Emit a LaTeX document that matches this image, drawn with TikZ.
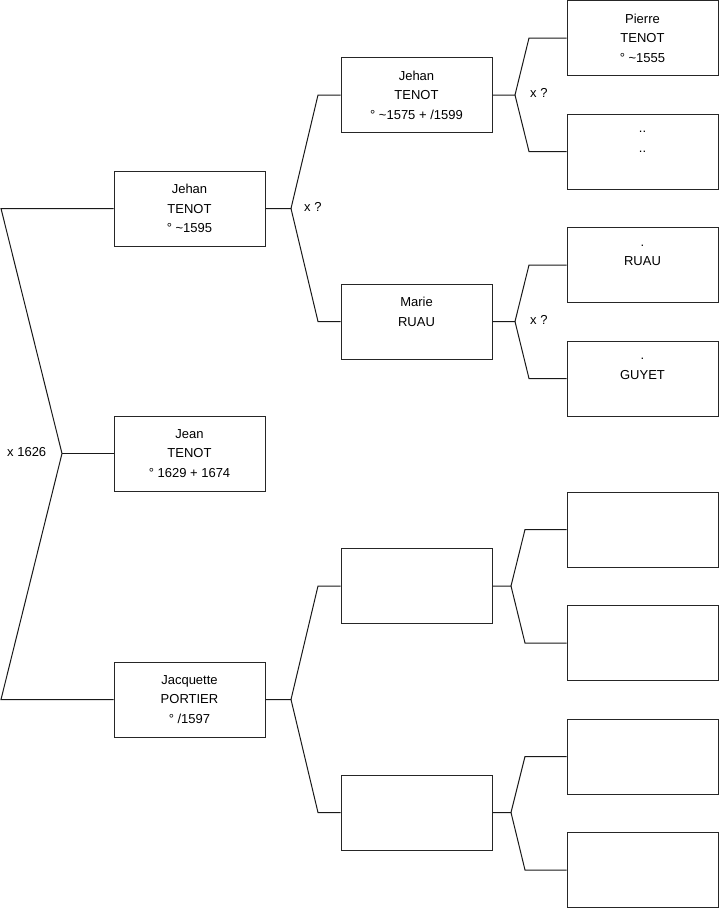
\documentclass[tikz,border=0pt]{standalone}
\usepackage{fontspec}
\setmainfont{Liberation Sans}
\begin{document}
\begin{tikzpicture}[x=1pt,y=-1pt,
  person/.style={draw=black!85, line width=1pt, minimum width=151pt, minimum height=75pt,
    inner sep=0pt, align=center, font=\fontsize{13}{19.5}\selectfont},
  link/.style={line width=1pt, draw=black!90},
  lbl/.style={font=\fontsize{13}{15}\selectfont, inner sep=0pt, anchor=west}]
\useasboundingbox (0,0) rectangle (719,908);
% column 1
\node[person] (j1) at (189.5,208.5) {Jehan\\TENOT\\° \textasciitilde1595};
\node[person] (jean) at (189.5,453.5) {Jean\\TENOT\\° 1629 + 1674};
\node[person] (jq) at (189.5,699.5) {Jacquette\\PORTIER\\° /1597};
% column 2
\node[person] (j2) at (416.5,95) {Jehan\\TENOT\\° \textasciitilde1575 + /1599};
\node[person] (marie) at (416.5,321.5) {Marie\\RUAU\\\mbox{}};
\node[person] (e1) at (416.5,586) {};
\node[person] (e2) at (416.5,812.5) {};
% column 3
\node[person] (pierre) at (642.5,38) {Pierre\\TENOT\\° \textasciitilde1555};
\node[person] (unk) at (642.5,151.5) {..\\..\\\mbox{}};
\node[person] (ruau) at (642.5,265) {.\\RUAU\\\mbox{}};
\node[person] (guyet) at (642.5,378.5) {.\\GUYET\\\mbox{}};
\node[person] (e3) at (642.5,529.5) {};
\node[person] (e4) at (642.5,643) {};
\node[person] (e5) at (642.5,756.5) {};
\node[person] (e6) at (642.5,870) {};
% coordinates
\coordinate (r1) at (1,208.5);
\coordinate (rv) at (62,453.5);
\coordinate (r2) at (1,699.5);
\coordinate (v1) at (291,208.5);
\coordinate (b1a) at (318,95);
\coordinate (b1b) at (318,321.5);
\coordinate (v2) at (515,95);
\coordinate (b2a) at (529,38);
\coordinate (b2b) at (529,151.5);
\coordinate (v3) at (515,321.5);
\coordinate (b3a) at (529,265);
\coordinate (b3b) at (529,378.5);
\coordinate (v4) at (291,699.5);
\coordinate (b4a) at (318,586);
\coordinate (b4b) at (318,812.5);
\coordinate (v5) at (511,586);
\coordinate (b5a) at (525,529.5);
\coordinate (b5b) at (525,643);
\coordinate (v6) at (511,812.5);
\coordinate (b6a) at (525,756.5);
\coordinate (b6b) at (525,870);
% connectors
\draw[link] (j1.west) -- (r1) -- (rv) -- (r2) -- (jq.west);
\draw[link] (rv) -- (jean.west);
\draw[link] (j1.east) -- (v1) -- (b1a) -- (j2.west);
\draw[link] (v1) -- (b1b) -- (marie.west);
\draw[link] (j2.east) -- (v2) -- (b2a) -- (pierre.west);
\draw[link] (v2) -- (b2b) -- (unk.west);
\draw[link] (marie.east) -- (v3) -- (b3a) -- (ruau.west);
\draw[link] (v3) -- (b3b) -- (guyet.west);
\draw[link] (jq.east) -- (v4) -- (b4a) -- (e1.west);
\draw[link] (v4) -- (b4b) -- (e2.west);
\draw[link] (e1.east) -- (v5) -- (b5a) -- (e3.west);
\draw[link] (v5) -- (b5b) -- (e4.west);
\draw[link] (e2.east) -- (v6) -- (b6a) -- (e5.west);
\draw[link] (v6) -- (b6b) -- (e6.west);
% labels
\node[lbl] (l0) at (7,452) {x 1626};
\node[lbl] (l1) at (304,207) {x ?};
\node[lbl] (l2) at (530,93) {x ?};
\node[lbl] (l3) at (530,320) {x ?};
\end{tikzpicture}
\end{document}
